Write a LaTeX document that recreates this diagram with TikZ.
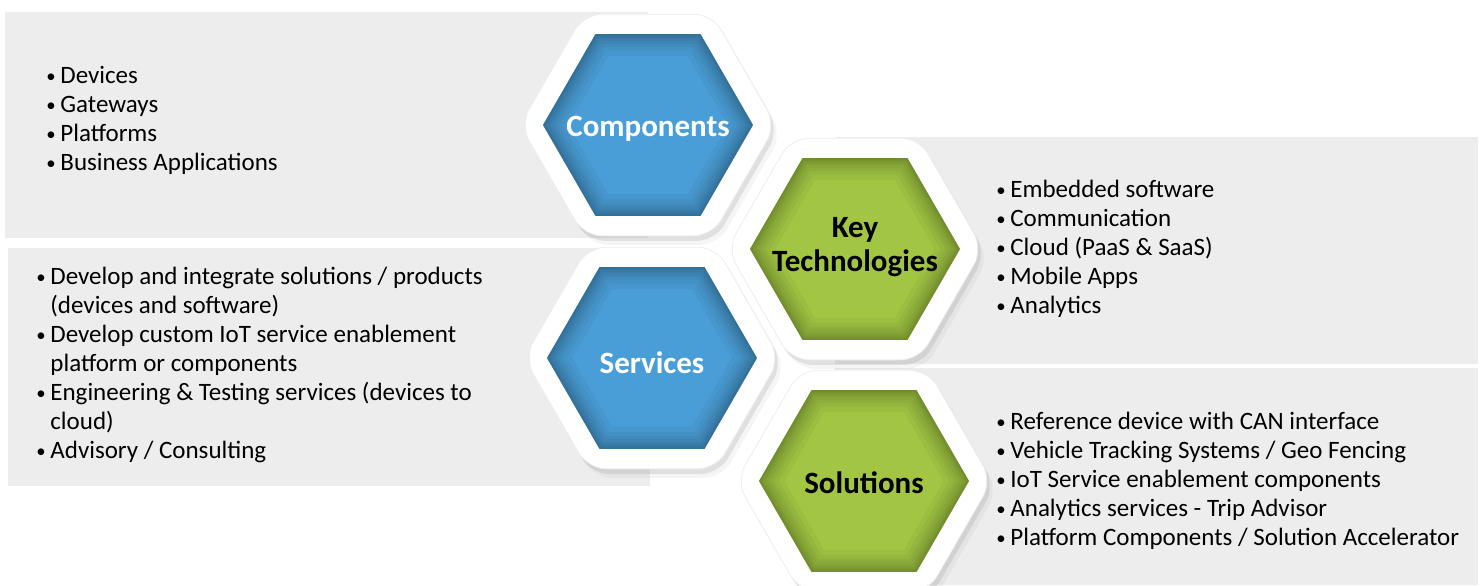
\documentclass[tikz,border=0pt]{standalone}
\usepackage{fontspec}
\setmainfont{Carlito}
\usetikzlibrary{shapes.geometric,shadows}
\definecolor{panelgray}{HTML}{EDEDED}
\definecolor{hexblue}{HTML}{4A9ED7}
\definecolor{hexgreen}{HTML}{A2C644}
\newcommand{\itm}{\strut\makebox[7pt][l]{\raisebox{0.8pt}{\scalebox{0.75}{\textbullet}}}}
\newcommand{\cont}{\strut\hspace*{7pt}}
\tikzset{
panel/.style = {fill=panelgray},
hexframe/.style = {regular polygon, regular polygon sides=6, fill=white,
                   draw=black!7, minimum size=128pt, inner sep=0pt,
                   rounded corners=9pt,
                   drop shadow={shadow xshift=1.5pt, shadow yshift=-2.5pt, opacity=.18},
                   drop shadow={shadow xshift=3pt, shadow yshift=-4.5pt, opacity=.08}},
hexcore/.style = {regular polygon, regular polygon sides=6, fill=#1,
                  minimum size=105pt, inner sep=0pt,
                  path picture={
                    \foreach \w in {22,17,13,10,7,5,3,1.5}
                      \node[regular polygon, regular polygon sides=6, minimum size=105pt,
                            inner sep=0pt, draw=black, draw opacity=.04, line width=\w pt]
                            at (path picture bounding box.center) {};
                  }},
hexlabel/.style = {font=\fontsize{15.5}{17}\selectfont\bfseries, align=center, text=#1},
listtext/.style = {font=\fontsize{12.5}{14.5}\selectfont, align=left, anchor=north west,
                   inner sep=0pt, text=black}
}
\begin{document}
\begin{tikzpicture}[x=0.5pt,y=-0.5pt]
\useasboundingbox (0,0) rectangle (1483,585);

% panels behind the hexagons
\fill[panel] (5,12) rectangle (648,238);
\fill[panel] (8,248) rectangle (650,486);
\fill[panel] (835,137) rectangle (1478,364);
\fill[panel] (835,368) rectangle (1478,585);

% hexagons
\node[hexframe] (compFrame) at (648,125) {};
\node[hexcore=hexblue] (compHex) at (compFrame) {};
\node[hexlabel=white] (compLabel) at (648,129) {Components};

\node[hexframe] (servFrame) at (652,358) {};
\node[hexcore=hexblue] (servHex) at (servFrame) {};
\node[hexlabel=white] (servLabel) at (652,363) {Services};

\node[hexframe] (techFrame) at (855,249) {};
\node[hexcore=hexgreen] (techHex) at (techFrame) {};
\node[hexlabel=black] (techLabel) at (855,247) {Key\\Technologies};

\node[hexframe] (solFrame) at (864,481) {};
\node[hexcore=hexgreen] (solHex) at (solFrame) {};
\node[hexlabel=black] (solLabel) at (864,483) {Solutions};

% lists
\node[listtext] (compList) at (46,63) {\itm Devices\\ \itm Gateways\\ \itm Platforms\\ \itm Business Applications};
\node[listtext] (servList) at (36,264) {\itm Develop and integrate solutions / products\\
  \cont (devices and software)\\
  \itm Develop custom IoT service enablement\\
  \cont platform or components\\
  \itm Engineering \& Testing services (devices to\\
  \cont cloud)\\
  \itm Advisory / Consulting};
\node[listtext] (techList) at (996,177) {\itm Embedded software\\ \itm Communication\\
  \itm Cloud (PaaS \& SaaS)\\ \itm Mobile Apps\\ \itm Analytics};
\node[listtext] (solList) at (996,409) {\itm Reference device with CAN interface\\
  \itm Vehicle Tracking Systems / Geo Fencing\\
  \itm IoT Service enablement components\\
  \itm Analytics services - Trip Advisor\\
  \itm Platform Components / Solution Accelerator};
\end{tikzpicture}
\end{document}
